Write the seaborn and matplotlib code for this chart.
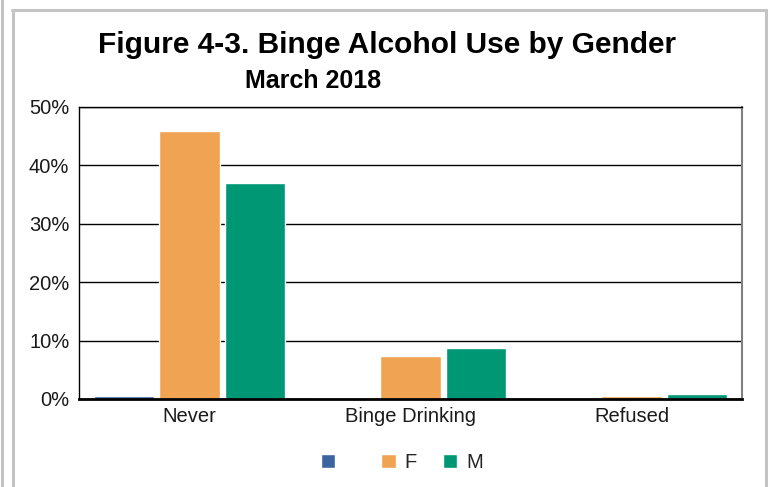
import matplotlib
matplotlib.use('Agg')
import matplotlib.pyplot as plt
from matplotlib.lines import Line2D
from matplotlib.ticker import PercentFormatter
import pandas as pd
import seaborn as sns

# data (percent)
categories = ['Never', 'Binge Drinking', 'Refused']
genders = ['  ', 'F', 'M']
blank_values = [0.5, 0.0, 0.0]
f_values = [45.9, 7.3, 0.5]
m_values = [37.0, 8.7, 0.8]
colors = ['#3B64A0', '#F0A453', '#009774']

df = pd.DataFrame({
    'category': categories * 3,
    'gender': [g for g in genders for _ in categories],
    'pct': blank_values + f_values + m_values,
})

sns.set_style('white')
plt.rcParams['font.family'] = ['Liberation Sans', 'DejaVu Sans']

fig = plt.figure(figsize=(7.71, 4.87), dpi=100)
ax = fig.add_axes([0.1025, 0.1807, 0.8599, 0.5996])

sns.barplot(data=df, x='category', y='pct', hue='gender', hue_order=genders,
            order=categories, palette=colors, width=0.887, gap=0.08,
            saturation=1, ax=ax, legend=True)

ax.set_ylim(0, 50)
ax.set_xlim(-0.5, 2.5)
ax.set_yticks(range(0, 51, 10))
ax.yaxis.set_major_formatter(PercentFormatter(decimals=0))
ax.set_xlabel('')
ax.set_ylabel('')
ax.tick_params(axis='both', length=0, labelsize=14.5, colors='#1a1a1a')
ax.tick_params(axis='x', pad=6)
ax.tick_params(axis='y', pad=7)
ax.grid(axis='y', color='black', linewidth=1)
ax.set_axisbelow(True)
for side in ['left', 'top']:
    ax.spines[side].set_color('black')
    ax.spines[side].set_linewidth(1)
ax.spines['bottom'].set_color('black')
ax.spines['bottom'].set_linewidth(2)
ax.spines['right'].set_color('#808080')
ax.spines['right'].set_linewidth(1.5)

handles, labels = ax.get_legend_handles_labels()
ax.legend(handles, labels, loc='center', bbox_to_anchor=(0.487, -0.219),
          bbox_transform=ax.transAxes, ncol=3, frameon=False, fontsize=14.5,
          handlelength=0.7, handleheight=0.7, handletextpad=0.45,
          columnspacing=1.3)

fig.text(0.502, 0.908, 'Figure 4-3. Binge Alcohol Use by Gender', ha='center',
         va='center', fontsize=21.5, fontweight='bold', color='black')
fig.text(0.406, 0.834, 'March 2018', ha='center', va='center', fontsize=18,
         fontweight='bold', color='black')

# gray page frame
gray = '#c4c4c4'
W, H = 771, 487
def px_line(x0, y0, x1, y1):
    fig.add_artist(Line2D([x0 / W, x1 / W], [1 - y0 / H, 1 - y1 / H],
                          color=gray, linewidth=2.2, transform=fig.transFigure))
px_line(1.5, 0, 1.5, H)
px_line(12.5, 10, 12.5, H)
px_line(12, 10, 766, 10)
px_line(766, 10, 766, H)

fig.savefig('out.png', dpi=100)
